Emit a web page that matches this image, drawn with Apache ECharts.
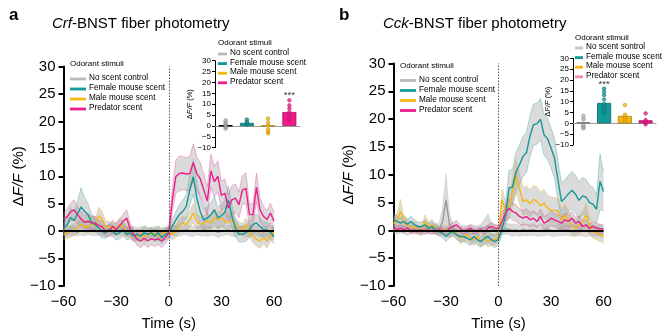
<!DOCTYPE html>
<html><head><meta charset="utf-8">
<script src="https://cdn.jsdelivr.net/npm/echarts@6/dist/echarts.min.js"></script>
<style>html,body{margin:0;padding:0;background:#fff}#c{width:665px;height:336px}</style>
</head><body><div id="c"></div>
<script>
// ---------- DATA ----------
const time = [-60,-58,-56,-54,-52,-50,-48,-46,-44,-42,-40,-38,-36,-34,-32,-30,-28,-26,-24,-22,-20,-18,-16,-14,-12,-10,-8,-6,-4,-2,0,2,4,6,8,10,12,14,16,18,20,22,24,26,28,30,32,34,36,38,40,42,44,46,48,50,52,54,56,58,60];
const stimuli = ['No scent control','Female mouse scent','Male mouse scent','Predator scent'];
const stimuliInsetCck = ['No scent sontrol','Female mouse scent','Male mouse scent','Predator scent'];
const legendTitle = 'Odorant stimuli';
const panelTitles = ['Crf', 'Cck'];

// Crf-BNST (panel a) mean traces
const crfNo = [0.1,-0.1,0.2,0.0,-0.2,0.1,0.0,0.2,-0.1,0.0,0.1,-0.1,0.0,0.2,0.1,-0.1,0.0,0.1,-0.2,0.0,0.1,-0.1,0.0,0.1,0.0,-0.1,0.1,0.0,-0.2,0.0,0.1,0.2,0.0,-0.1,0.1,0.2,0.0,-0.1,0.1,0.0,0.2,-0.1,0.0,0.1,-0.2,0.0,0.1,0.2,0.0,-0.1,0.0,0.1,-0.1,0.0,0.2,0.1,-0.1,0.0,0.1,0.0,-0.1];
const crfFemale = [0.6,1.0,2.5,1.9,3.2,4.4,3.6,3.0,1.6,1.2,0.6,0.0,-0.3,0.3,0.0,-0.6,-0.3,0.3,-0.6,-0.3,-0.9,-0.6,-0.9,-0.3,-0.6,-0.3,-0.9,-0.3,-1.2,-0.6,-0.3,0.9,2.0,3.0,3.6,4.5,7.5,9.9,6.0,3.5,2.0,2.4,3.0,3.9,2.4,2.8,3.4,5.7,2.7,0.6,-0.6,-0.6,-0.3,0.3,1.2,1.5,0.9,0.3,0.2,-0.2,-1.0];
const crfMale = [-0.6,-0.4,-0.1,0.3,0.6,1.2,0.9,0.7,1.4,1.0,2.8,2.2,0.7,0.8,0.4,0.6,1.2,0.8,0.0,-0.3,-0.9,-0.9,-0.4,-1.2,-0.6,-0.6,-0.3,-0.9,-0.6,-0.1,-0.2,-0.6,0.0,0.9,1.5,1.2,2.1,3.3,1.8,1.2,1.5,1.8,1.5,2.4,2.1,2.4,1.8,1.5,2.1,1.2,0.6,0.3,1.2,0.0,-0.9,-1.5,-1.8,-1.2,-1.8,-0.8,-0.1];
const crfPredator = [2.2,2.6,3.5,3.9,3.0,2.2,1.6,1.8,1.5,1.5,1.0,0.8,0.0,0.0,0.9,0.3,1.0,1.8,2.4,0.4,-0.6,-1.5,-1.8,-1.3,-1.8,-1.4,-1.6,-1.4,-1.8,-1.2,-0.3,5.5,9.9,10.5,10.6,10.4,10.5,12.5,10.5,9.5,7.5,5.5,11.0,9.0,10.0,6.5,6.9,4.2,5.7,6.0,4.8,7.5,7.8,3.0,3.0,8.0,3.9,2.7,2.1,3.3,1.8];
// Crf-BNST s.e.m.
const crfNoSem = [0.8,0.7,0.9,0.8,0.7,0.8,0.9,0.8,0.7,0.8,0.9,0.8,0.7,0.8,0.9,0.8,0.7,0.8,0.8,0.9,0.8,0.7,0.8,0.9,0.8,0.7,0.8,0.9,0.8,0.7,0.8,0.9,1.0,0.9,0.8,0.9,1.0,0.9,0.8,0.9,1.0,0.9,0.8,0.9,1.0,0.9,0.8,0.9,1.0,0.9,0.8,0.9,1.0,0.9,0.8,0.9,1.0,0.9,0.8,0.9,1.0];
const crfFemaleSem = [1.0,1.3,1.8,1.6,2.2,3.5,2.5,2.0,1.5,1.3,1.2,1.2,1.0,1.1,1.0,1.0,1.1,1.2,1.0,1.1,1.0,0.9,1.0,1.1,0.9,1.0,1.0,1.2,1.1,1.0,1.0,1.2,1.5,1.8,2.0,2.2,2.8,3.2,3.0,2.4,2.0,2.0,2.2,2.4,2.0,2.0,2.2,2.6,2.0,1.6,1.4,1.4,1.5,1.5,1.6,1.6,1.5,1.4,1.4,1.3,1.3];
const crfMaleSem = [1.0,0.9,1.0,1.1,1.0,1.2,1.1,1.0,1.3,1.2,1.6,1.5,1.1,1.0,1.0,1.0,1.2,1.1,1.0,0.9,0.9,1.0,0.9,1.0,0.9,1.0,0.9,1.0,0.9,0.9,0.9,1.0,1.1,1.2,1.3,1.3,1.5,1.8,1.5,1.3,1.3,1.4,1.3,1.5,1.4,1.5,1.4,1.3,1.4,1.3,1.1,1.1,1.2,1.1,1.2,1.3,1.3,1.2,1.3,1.1,1.0];
const crfPredatorSem = [1.2,1.4,1.6,1.8,1.5,1.3,1.2,1.3,1.2,1.2,1.1,1.0,1.0,1.0,1.1,1.0,1.1,1.3,1.5,1.1,1.0,1.1,1.2,1.1,1.2,1.1,1.2,1.1,1.2,1.1,1.0,2.0,3.0,3.2,3.0,3.0,3.1,3.4,3.0,3.0,2.8,2.6,3.0,2.8,2.8,2.6,2.6,2.4,2.6,2.6,2.4,2.6,2.8,2.0,2.0,2.6,2.2,1.8,1.6,1.8,1.5];

// Cck-BNST (panel b) mean traces
const cckNo = [0.2,0.0,0.3,0.1,-0.1,0.2,0.0,0.1,-0.1,0.2,0.0,0.1,0.3,0.2,1.5,5.5,1.0,0.2,0.0,-0.1,0.1,0.0,0.2,0.1,-0.1,0.3,0.5,0.8,0.2,0.1,0.0,0.1,0.3,0.2,0.0,0.1,-0.1,0.2,0.0,0.1,0.2,-0.1,0.0,0.1,0.2,0.0,-0.1,0.1,0.0,0.2,0.1,-0.1,0.0,0.1,0.0,-0.2,0.1,0.0,-0.1,0.0,-0.2];
const cckFemale = [2.0,1.6,1.3,1.6,1.1,1.6,1.0,0.7,0.7,1.0,0.4,0.7,0.1,-0.2,-0.5,-1.1,-0.5,-0.2,-0.8,-1.1,-1.1,-1.4,-1.7,-1.1,-1.7,-2.0,-1.4,-1.1,-1.7,-2.0,-1.6,0.3,2.6,7.6,7.8,10.5,11.8,13.3,14.0,17.0,19.0,19.2,20.0,17.2,16.5,14.8,13.0,9.0,5.2,5.8,6.6,7.2,6.5,5.4,6.2,6.0,5.0,4.7,3.8,8.8,7.0];
const cckMale = [1.2,1.9,3.4,1.3,1.0,0.4,0.7,0.1,-0.2,1.6,0.7,1.0,0.4,-0.2,0.1,0.1,-0.5,-0.2,-0.5,-1.4,-1.1,-0.8,-1.4,-1.7,-1.1,-2.0,-1.4,-2.0,-1.7,-1.6,-1.2,5.5,3.5,3.8,6.8,9.8,7.5,5.2,5.5,4.8,5.6,5.2,4.4,4.9,4.0,3.6,3.6,3.5,1.8,2.8,1.8,0.7,0.4,1.0,1.6,2.8,0.8,-0.2,-0.5,-0.8,-1.1];
const cckPredator = [0.5,0.2,0.4,0.1,0.4,-0.1,0.1,0.0,0.1,-0.2,0.1,-0.2,0.0,0.1,0.0,-0.2,0.4,0.7,1.0,0.4,-0.2,0.1,0.4,-0.2,0.0,0.1,-0.2,0.4,0.7,0.4,0.3,1.6,3.1,4.0,3.4,3.1,2.5,2.2,2.5,1.9,2.2,1.6,2.5,1.3,1.6,2.2,1.9,1.6,1.3,1.9,1.6,2.2,1.3,1.6,0.7,1.0,0.4,0.7,0.4,0.3,0.2];
// Cck-BNST s.e.m.
const cckNoSem = [0.8,0.7,0.8,0.7,0.8,0.8,0.7,0.8,0.7,0.8,0.7,0.8,0.9,1.0,2.5,4.8,2.0,0.9,0.8,0.7,0.8,0.8,0.9,0.8,0.9,0.9,1.5,2.2,1.2,0.9,0.8,0.9,1.0,1.0,1.1,1.0,1.0,1.1,1.0,1.0,1.1,1.0,1.0,1.1,1.0,1.0,1.1,1.0,1.0,1.1,1.0,1.0,1.0,1.1,1.0,1.0,1.1,1.0,1.0,1.0,1.0];
const cckFemaleSem = [1.2,1.0,1.0,1.1,0.9,1.0,0.9,0.8,0.8,0.9,0.8,0.8,0.8,0.8,0.8,0.9,0.8,0.8,0.8,0.9,0.9,0.9,1.0,0.9,1.0,1.0,1.2,1.0,1.0,1.1,1.0,1.0,2.0,3.2,3.2,3.5,3.6,3.6,3.6,3.7,3.7,3.7,3.7,3.7,3.7,3.6,3.6,3.5,3.3,3.3,3.3,3.4,3.4,3.3,3.3,3.2,3.1,3.0,2.6,5.0,3.5];
const cckMaleSem = [1.0,1.2,2.2,1.2,1.0,0.9,0.9,0.8,0.8,1.2,0.9,1.0,0.9,0.8,0.8,0.8,0.9,0.8,0.9,1.0,1.0,0.9,1.0,1.0,0.9,1.0,0.9,1.0,1.0,1.0,1.0,2.0,2.0,2.0,2.5,3.0,2.8,2.5,2.5,2.5,2.5,2.6,2.5,2.5,2.4,2.4,2.3,2.3,2.0,2.0,1.8,1.5,1.5,1.6,1.8,2.0,1.5,1.2,1.2,1.2,1.2];
const cckPredatorSem = [0.6,0.5,0.5,0.5,0.5,0.5,0.5,0.5,0.5,0.5,0.5,0.5,0.5,0.5,0.5,0.5,0.6,0.7,0.8,0.6,0.5,0.5,0.6,0.5,0.5,0.5,0.5,0.6,0.7,0.6,0.6,1.0,1.4,1.6,1.5,1.5,1.4,1.3,1.4,1.3,1.3,1.2,1.3,1.2,1.2,1.3,1.2,1.2,1.1,1.2,1.1,1.2,1.0,1.0,0.9,0.9,0.8,0.8,0.8,0.8,0.8];

// Insets: mean response bars + individual animals
const crfBarMeans = [0.1, 1.4, 0.2, 6.4];
const crfDotsNo = [-1.2, -0.5, 0.3, 0.8, 1.6, 2.6];
const crfDotsFemale = [0.5, 1.0, 1.5, 2.0, 3.0];
const crfDotsMale = [-3.4, -2.6, -1.6, 0.2, 1.6, 3.4];
const crfDotsPredator = [2.6, 3.4, 4.9, 6.4, 8.0, 9.5, 11.8];
const crfSignif = ['', '', '', '***'];
const crfSignifY = [0, 0, 0, 14.2];

const cckBarMeans = [0.5, 9.4, 3.4, 1.4];
const cckDotsNo = [-2.3, -1.5, -0.8, 1.8, 3.4];
const cckDotsFemale = [4.6, 5.5, 6.5, 7.5, 9.0, 11.0, 13.0, 14.5, 16.0];
const cckDotsMale = [0.8, 1.8, 3.0, 4.0, 8.4];
const cckDotsPredator = [-0.5, 0.3, 0.8, 1.5, 4.6];
const cckSignif = ['', '***', '', ''];
const cckSignifY = [0, 18.0, 0, 0];

// ---------- STYLE ----------
const FONT = 'Liberation Sans, Arial, Helvetica, sans-serif';
const COL = ['#b9b9b9', '#11999b', '#f6b711', '#ee1c8c'];
const COL_DARK = ['#6d6d6d', '#0a6a6b', '#b58300', '#b0105f'];
const MEANCOL = ['#9a9a9a', '#11999b', '#f6b711', '#ee1c8c'];
const minus = v => String(v).replace('-', '\u2212');

// s.e.m. band drawn as one polygon through the axis scales
function bandSeries(xi, mean, sem, color) {
  return {
    type: 'custom', xAxisIndex: xi, yAxisIndex: xi, silent: true, z: 1, clip: true,
    data: time.map((t, i) => [t, mean[i] - sem[i], mean[i] + sem[i]]),
    encode: { x: 0, y: [1, 2] },
    renderItem: function (params, api) {
      if (params.dataIndex !== 0) return null;
      const n = params.dataInsideLength;
      const up = [], lo = [];
      for (let j = 0; j < n; j++) {
        const t = api.value(0, j);
        up.push(api.coord([t, api.value(2, j)]));
        lo.push(api.coord([t, api.value(1, j)]));
      }
      const poly = up.concat(lo.slice().reverse());
      return { type: 'group', children: [
        { type: 'polygon', shape: { points: poly }, style: { fill: 'rgba(165,165,165,0.40)', stroke: null } },
        { type: 'polyline', shape: { points: up }, style: { stroke: color, lineWidth: 0.7, opacity: 0.45, fill: null } },
        { type: 'polyline', shape: { points: lo }, style: { stroke: color, lineWidth: 0.7, opacity: 0.45, fill: null } }
      ] };
    }
  };
}
function meanSeries(xi, mean, idx, extra) {
  return Object.assign({
    type: 'line', name: stimuli[idx], xAxisIndex: xi, yAxisIndex: xi,
    data: time.map((t, i) => [t, mean[i]]), symbol: 'none',
    lineStyle: { color: MEANCOL[idx], width: 1.4 }, itemStyle: { color: MEANCOL[idx] }, z: 4
  }, extra || {});
}
const refLines = {
  silent: true, symbol: 'none', label: { show: false }, animation: false,
  data: [
    { yAxis: 0, lineStyle: { color: '#000', width: 2.2, type: 'solid' } },
    { xAxis: 0, lineStyle: { color: '#555', width: 1, type: [1.5, 1.5] } }
  ]
};

function panelSeries(xi, tr, sems) {
  let s = [];
  for (let k = 0; k < 4; k++) s.push(bandSeries(xi, tr[k], sems[k], COL[k]));
  s.push(meanSeries(xi, tr[0], 0, { markLine: refLines, z: 3 }));
  s.push(meanSeries(xi, tr[2], 2));
  s.push(meanSeries(xi, tr[1], 1));
  s.push(meanSeries(xi, tr[3], 3));
  return s;
}
function insetSeries(gi, means, dots, sig, sigY) {
  const out = [];
  out.push({ type: 'bar', xAxisIndex: gi, yAxisIndex: gi, barWidth: 14, z: 5,
    data: means.map((v, i) => ({ value: v, itemStyle: { color: COL[i], borderColor: i === 0 && gi === 2 ? '#000' : COL_DARK[i], borderWidth: i === 0 && gi === 2 ? 1.5 : 0.8 } })) });
  const pts = [];
  dots.forEach((arr, i) => arr.forEach(v => pts.push({ value: [i, v], itemStyle: { color: COL[i], borderColor: COL_DARK[i], borderWidth: 0.6 } })));
  out.push({ type: 'scatter', xAxisIndex: gi, yAxisIndex: gi, symbolSize: 3.6, data: pts, z: 6 });
  out.push({ type: 'scatter', xAxisIndex: gi, yAxisIndex: gi, symbolSize: 1, z: 6,
    itemStyle: { color: 'rgba(0,0,0,0)' },
    data: sig.map((s, i) => ({ value: [i, sigY[i]], label: { show: s !== '', formatter: s, position: 'inside', fontSize: 9.5, color: '#000', fontFamily: FONT } })) });
  return out;
}

const grids = [
  { left: 63.5, top: 66.5, width: 210.5, height: 221 },
  { left: 393.5, top: 63.5, width: 210, height: 223 },
  { left: 215, top: 60.7, width: 85, height: 87 },
  { left: 573, top: 58.3, width: 83, height: 86.7 }
];
const yName = '{d|\u0394}{i|F/F}{d| (%)}';
function mainX(gi) {
  return { gridIndex: gi, type: 'value', min: -60, max: 60, interval: 30,
    axisLine: { show: false, onZero: false }, axisTick: { show: false }, splitLine: { show: false },
    axisLabel: { fontSize: 15, color: '#000', margin: 8, fontFamily: FONT, formatter: minus },
    name: 'Time (s)', nameLocation: 'middle', nameGap: 30,
    nameTextStyle: { fontSize: 15, color: '#000', fontFamily: FONT } };
}
function mainY(gi) {
  return { gridIndex: gi, type: 'value', min: -10, max: 30, interval: 5,
    axisLine: { show: true, onZero: false, lineStyle: { color: '#000', width: 2 } },
    axisTick: { show: true, length: 5, lineStyle: { color: '#000', width: 2 } },
    splitLine: { show: false },
    axisLabel: { fontSize: 15, color: '#000', margin: 8, fontFamily: FONT, formatter: minus },
    name: yName, nameLocation: 'middle', nameRotate: 90, nameGap: 36,
    nameTextStyle: { color: '#000', fontFamily: FONT,
      rich: { d: { fontSize: 15, fontFamily: FONT, color: '#000' }, i: { fontSize: 15, fontStyle: 'italic', fontFamily: FONT, color: '#000' } } } };
}
function insetX(gi) {
  return { gridIndex: gi, type: 'category', data: stimuli,
    axisLine: { show: true, onZero: true, lineStyle: { color: '#9a9a9a', width: 1 } },
    axisTick: { show: false }, axisLabel: { show: false }, splitLine: { show: false } };
}
function insetY(gi) {
  return { gridIndex: gi, type: 'value', min: -10, max: 30, interval: 5,
    axisLine: { show: true, lineStyle: { color: '#000', width: 1 } },
    axisTick: { show: true, length: 3, lineStyle: { color: '#000', width: 1 } },
    splitLine: { show: false },
    axisLabel: { fontSize: 8, color: '#000', margin: 4, fontFamily: FONT, formatter: minus },
    name: yName, nameLocation: 'middle', nameRotate: 90, nameGap: 20,
    nameTextStyle: { color: '#000', fontFamily: FONT,
      rich: { d: { fontSize: 7.5, fontFamily: FONT, color: '#000' }, i: { fontSize: 7.5, fontStyle: 'italic', fontFamily: FONT, color: '#000' } } } };
}

function legendGraphic(x, yHead, y0, gap, mw, names, colors) {
  const g = [{ type: 'text', left: x, top: yHead - 5, style: { text: legendTitle, fontSize: 8, fontFamily: FONT, fill: '#000' } }];
  names.forEach((n, i) => {
    const y = y0 + i * gap;
    g.push({ type: 'rect', shape: { x: x, y: y - 1.4, width: mw, height: 2.8 }, style: { fill: colors[i] } });
    g.push({ type: 'text', left: x + mw + 3, top: y - 5, style: { text: n, fontSize: 8.2, fontFamily: FONT, fill: '#000' } });
  });
  return g;
}

const option = {
  animation: false,
  textStyle: { fontFamily: FONT },
  title: [
    { text: 'a', left: 9, top: 7, padding: 0, textStyle: { fontSize: 17, fontWeight: 'bold', color: '#000', fontFamily: FONT } },
    { text: '{i|' + panelTitles[0] + '}-BNST fiber photometry', left: 52, top: 16, padding: 0,
      textStyle: { fontSize: 15, fontWeight: 'normal', color: '#000', fontFamily: FONT,
        rich: { i: { fontStyle: 'italic', fontSize: 15, fontFamily: FONT, color: '#000' } } } },
    { text: 'b', left: 339, top: 7, padding: 0, textStyle: { fontSize: 17, fontWeight: 'bold', color: '#000', fontFamily: FONT } },
    { text: '{i|' + panelTitles[1] + '}-BNST fiber photometry', left: 383, top: 16, padding: 0,
      textStyle: { fontSize: 15, fontWeight: 'normal', color: '#000', fontFamily: FONT,
        rich: { i: { fontStyle: 'italic', fontSize: 15, fontFamily: FONT, color: '#000' } } } }
  ],
  grid: grids,
  xAxis: [mainX(0), mainX(1), insetX(2), insetX(3)],
  yAxis: [mainY(0), mainY(1), insetY(2), insetY(3)],
  graphic: [].concat(
    legendGraphic(70, 65, 79, 10, 16, stimuli, COL),
    legendGraphic(400, 67, 80.5, 10, 16, stimuli, COL),
    legendGraphic(218, 44, 54, 9.6, 9, stimuli, COL),
    legendGraphic(575, 39, 48, 9.6, 8, stimuliInsetCck, ['#c4c4c4', '#11999b', '#f6b711', '#f48cba'])
  ),
  series: [].concat(
    panelSeries(0, [crfNo, crfFemale, crfMale, crfPredator], [crfNoSem, crfFemaleSem, crfMaleSem, crfPredatorSem]),
    panelSeries(1, [cckNo, cckFemale, cckMale, cckPredator], [cckNoSem, cckFemaleSem, cckMaleSem, cckPredatorSem]),
    insetSeries(2, crfBarMeans, [crfDotsNo, crfDotsFemale, crfDotsMale, crfDotsPredator], crfSignif, crfSignifY),
    insetSeries(3, cckBarMeans, [cckDotsNo, cckDotsFemale, cckDotsMale, cckDotsPredator], cckSignif, cckSignifY)
  )
};
const chart = echarts.init(document.getElementById('c'), null, { renderer: 'canvas' });
chart.setOption(option);
</script></body></html>
